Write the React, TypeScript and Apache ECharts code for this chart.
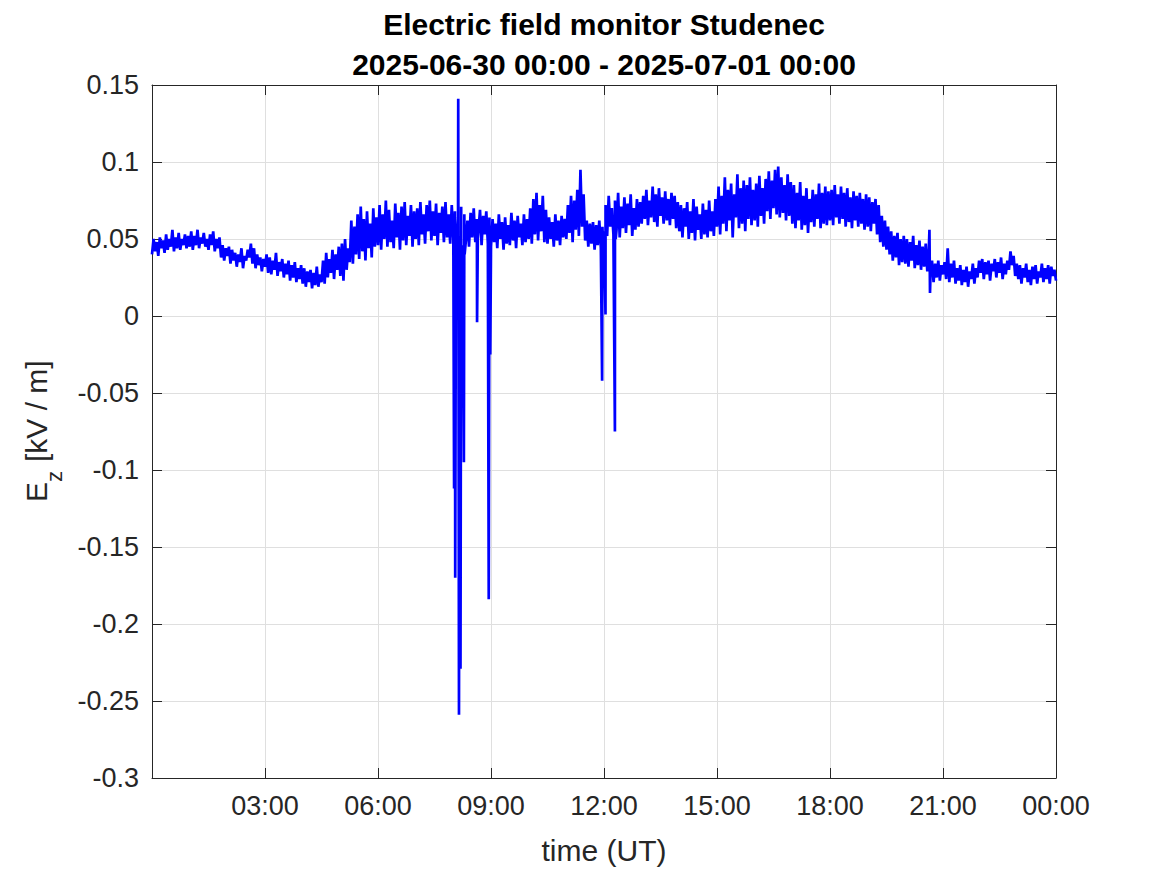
import React, { useEffect, useRef } from "react";
import * as echarts from "echarts";

// Title lines
const titleLines = ["Electric field monitor Studenec", "2025-06-30 00:00 - 2025-07-01 00:00"];
const xAxisTitle = "time (UT)";

// Axis ranges / ticks
const xMinHour = 0;
const xMaxHour = 24;
const xTickHours = 3;
const yMin = -0.3;
const yMax = 0.15;
const yTick = 0.05;

// Ez [kV/m], one row per hour, one value every 2.5 minutes
const ezSamples: number[][] = [
  [0.040, 0.050, 0.042, 0.048, 0.039, 0.051, 0.044, 0.049, 0.041, 0.053, 0.043, 0.050, 0.045, 0.056, 0.042, 0.051, 0.044, 0.054, 0.043, 0.050, 0.046, 0.053, 0.044, 0.052],
  [0.045, 0.055, 0.043, 0.052, 0.046, 0.056, 0.044, 0.051, 0.047, 0.054, 0.045, 0.050, 0.043, 0.053, 0.046, 0.055, 0.042, 0.050, 0.044, 0.051, 0.038, 0.046, 0.036, 0.044],
  [0.039, 0.045, 0.034, 0.043, 0.036, 0.041, 0.032, 0.040, 0.035, 0.044, 0.031, 0.039, 0.036, 0.043, 0.038, 0.047, 0.034, 0.044, 0.031, 0.040, 0.033, 0.038, 0.029, 0.037],
  [0.032, 0.040, 0.028, 0.038, 0.027, 0.036, 0.030, 0.041, 0.026, 0.035, 0.029, 0.037, 0.025, 0.034, 0.027, 0.036, 0.023, 0.033, 0.025, 0.035, 0.022, 0.031, 0.024, 0.033],
  [0.021, 0.031, 0.019, 0.029, 0.022, 0.030, 0.018, 0.028, 0.020, 0.032, 0.019, 0.027, 0.022, 0.036, 0.021, 0.041, 0.025, 0.037, 0.028, 0.043, 0.024, 0.040, 0.030, 0.045],
  [0.026, 0.047, 0.023, 0.050, 0.030, 0.044, 0.035, 0.062, 0.034, 0.058, 0.040, 0.066, 0.037, 0.071, 0.042, 0.063, 0.036, 0.068, 0.044, 0.060, 0.038, 0.070, 0.045, 0.064],
  [0.046, 0.072, 0.043, 0.066, 0.050, 0.075, 0.045, 0.069, 0.048, 0.062, 0.044, 0.073, 0.051, 0.067, 0.043, 0.071, 0.049, 0.074, 0.046, 0.065, 0.052, 0.072, 0.045, 0.068],
  [0.050, 0.070, 0.046, 0.074, 0.053, 0.066, 0.047, 0.072, 0.055, 0.075, 0.049, 0.068, 0.052, 0.073, 0.046, 0.067, 0.054, 0.071, 0.048, 0.074, 0.051, 0.066, 0.047, 0.072],
  [0.050, 0.068, 0.047, 0.064, 0.052, 0.071, 0.046, 0.066, 0.049, 0.062, 0.045, 0.067, 0.051, 0.070, 0.048, 0.063, 0.050, 0.069, 0.046, 0.065, 0.053, 0.068, 0.047, 0.064],
  [0.045, 0.063, 0.048, 0.060, 0.044, 0.066, 0.050, 0.061, 0.043, 0.064, 0.047, 0.059, 0.046, 0.067, 0.049, 0.062, 0.044, 0.065, 0.051, 0.060, 0.046, 0.066, 0.048, 0.063],
  [0.050, 0.070, 0.047, 0.076, 0.053, 0.080, 0.049, 0.072, 0.055, 0.078, 0.048, 0.069, 0.047, 0.064, 0.050, 0.061, 0.045, 0.066, 0.049, 0.062, 0.046, 0.065, 0.051, 0.063],
  [0.050, 0.072, 0.054, 0.078, 0.048, 0.075, 0.056, 0.082, 0.052, 0.095, 0.058, 0.079, 0.049, 0.062, 0.045, 0.060, 0.047, 0.061, 0.043, 0.059, 0.046, 0.062, 0.044, 0.058],
  [0.055, 0.072, 0.052, 0.078, 0.058, 0.070, 0.053, 0.075, 0.056, 0.080, 0.051, 0.071, 0.057, 0.077, 0.054, 0.073, 0.059, 0.079, 0.052, 0.070, 0.056, 0.076, 0.058, 0.074],
  [0.060, 0.078, 0.063, 0.082, 0.059, 0.075, 0.064, 0.084, 0.061, 0.079, 0.058, 0.083, 0.065, 0.077, 0.060, 0.081, 0.062, 0.076, 0.059, 0.080, 0.063, 0.078, 0.057, 0.074],
  [0.055, 0.072, 0.051, 0.070, 0.058, 0.074, 0.050, 0.068, 0.054, 0.076, 0.049, 0.071, 0.056, 0.066, 0.050, 0.073, 0.053, 0.069, 0.051, 0.075, 0.055, 0.068, 0.052, 0.076],
  [0.058, 0.084, 0.053, 0.078, 0.060, 0.090, 0.055, 0.082, 0.062, 0.086, 0.051, 0.079, 0.064, 0.092, 0.057, 0.083, 0.060, 0.088, 0.055, 0.085, 0.063, 0.090, 0.059, 0.082],
  [0.062, 0.086, 0.058, 0.091, 0.065, 0.083, 0.060, 0.089, 0.068, 0.094, 0.063, 0.088, 0.070, 0.095, 0.066, 0.097, 0.064, 0.090, 0.067, 0.085, 0.062, 0.092, 0.065, 0.087],
  [0.060, 0.085, 0.057, 0.080, 0.062, 0.087, 0.056, 0.078, 0.059, 0.083, 0.054, 0.076, 0.061, 0.082, 0.058, 0.079, 0.063, 0.086, 0.057, 0.080, 0.060, 0.084, 0.059, 0.081],
  [0.062, 0.082, 0.059, 0.085, 0.064, 0.079, 0.060, 0.084, 0.063, 0.080, 0.058, 0.083, 0.061, 0.077, 0.057, 0.081, 0.062, 0.078, 0.058, 0.080, 0.060, 0.076, 0.056, 0.079],
  [0.058, 0.077, 0.055, 0.074, 0.060, 0.076, 0.053, 0.072, 0.048, 0.065, 0.045, 0.062, 0.043, 0.058, 0.040, 0.055, 0.036, 0.052, 0.038, 0.054, 0.033, 0.050, 0.035, 0.052],
  [0.034, 0.050, 0.032, 0.048, 0.036, 0.052, 0.031, 0.046, 0.033, 0.049, 0.030, 0.045, 0.032, 0.047, 0.029, 0.044, 0.026, 0.036, 0.022, 0.034, 0.025, 0.036, 0.023, 0.033],
  [0.027, 0.035, 0.024, 0.044, 0.022, 0.034, 0.025, 0.036, 0.021, 0.031, 0.023, 0.033, 0.020, 0.030, 0.022, 0.032, 0.019, 0.029, 0.024, 0.034, 0.021, 0.031, 0.025, 0.036],
  [0.028, 0.037, 0.024, 0.035, 0.027, 0.036, 0.023, 0.034, 0.029, 0.037, 0.025, 0.035, 0.028, 0.038, 0.024, 0.034, 0.027, 0.036, 0.030, 0.042, 0.033, 0.039, 0.026, 0.034],
  [0.024, 0.033, 0.021, 0.031, 0.025, 0.034, 0.022, 0.030, 0.020, 0.032, 0.024, 0.033, 0.021, 0.029, 0.025, 0.034, 0.022, 0.031, 0.024, 0.033, 0.021, 0.032, 0.026, 0.030],
];
const ezEndValue = 0.023;

// Short excursions (hour of day, Ez)
const spikeHours = [
  8.02, 8.035, 8.05, 8.07, 8.13, 8.15, 8.165, 8.19, 8.21, 8.24, 8.28, 8.3,
  8.63, 8.65, 8.94, 8.96, 8.98, 11.95, 11.97, 12.04, 12.06, 12.29, 12.31, 20.64, 20.655,
];
const spikeValues = [
  -0.112, 0.05, -0.17, 0.055, 0.141, -0.259, 0.02, -0.229, -0.005, -0.024, -0.095, 0.04,
  -0.004, 0.05, -0.184, 0.02, -0.025, -0.042, 0.05, 0.001, 0.055, -0.075, 0.05, 0.056, 0.015,
];

const FONT = "'Liberation Sans', Arial, Helvetica, sans-serif";
const TXT = "#262626";

function buildData(): [number, number][] {
  const pts: [number, number][] = [];
  ezSamples.forEach((row, h) => {
    row.forEach((v, i) => pts.push([h + i / row.length, v]));
  });
  pts.push([24, ezEndValue]);
  spikeHours.forEach((t, i) => pts.push([t, spikeValues[i]]));
  pts.sort((a, b) => a[0] - b[0]);
  return pts;
}

export default function App() {
  const ref = useRef<HTMLDivElement>(null);
  useEffect(() => {
    if (!ref.current) return;
    const chart = echarts.init(ref.current, null, { renderer: "svg" });
    const axisLine = { show: true, onZero: false, lineStyle: { color: TXT, width: 1 } };
    const axisTick = { show: true, inside: true, length: 10, lineStyle: { color: TXT, width: 1 } };
    const xFmt = (v: number) => {
      if (v === 0) return "";
      const h = v === 24 ? 0 : v;
      return (h < 10 ? "0" : "") + h + ":00";
    };
    const yFmt = (v: number) => String(Math.round(v * 100) / 100);
    const option: any = {
      animation: false,
      backgroundColor: "#ffffff",
      grid: { left: 152, top: 85, width: 904, height: 693, containLabel: false },
      xAxis: [
        {
          type: "value",
          min: xMinHour,
          max: xMaxHour,
          interval: xTickHours,
          axisLine,
          axisTick,
          axisLabel: { formatter: xFmt, fontSize: 27, color: TXT, margin: 14, fontFamily: FONT },
          splitLine: { show: true, lineStyle: { color: "#dfdfdf", width: 1 } },
        },
        {
          type: "value",
          position: "top",
          min: xMinHour,
          max: xMaxHour,
          interval: xTickHours,
          axisLine,
          axisTick,
          axisLabel: { show: false },
          splitLine: { show: false },
        },
      ],
      yAxis: [
        {
          type: "value",
          min: yMin,
          max: yMax,
          interval: yTick,
          axisLine,
          axisTick,
          axisLabel: { formatter: yFmt, fontSize: 27, color: TXT, margin: 13, fontFamily: FONT },
          splitLine: { show: true, lineStyle: { color: "#dfdfdf", width: 1 } },
        },
        {
          type: "value",
          position: "right",
          min: yMin,
          max: yMax,
          interval: yTick,
          axisLine,
          axisTick,
          axisLabel: { show: false },
          splitLine: { show: false },
        },
      ],
      series: [
        {
          type: "line",
          xAxisIndex: 0,
          yAxisIndex: 0,
          data: buildData(),
          symbol: "none",
          showSymbol: false,
          lineStyle: { color: "#0000ff", width: 2.7, join: "miter" },
          z: 3,
        },
      ],
      graphic: [
        {
          type: "text",
          x: 604,
          y: 24,
          style: { text: titleLines[0], font: `bold 30px ${FONT}`, fill: "#000", align: "center", verticalAlign: "middle" },
        },
        {
          type: "text",
          x: 604,
          y: 64,
          style: { text: titleLines[1], font: `bold 30px ${FONT}`, fill: "#000", align: "center", verticalAlign: "middle" },
        },
        {
          type: "text",
          x: 604,
          y: 850,
          style: { text: xAxisTitle, font: `30px ${FONT}`, fill: TXT, align: "center", verticalAlign: "middle" },
        },
        {
          type: "group",
          x: 36.5,
          y: 431,
          rotation: Math.PI / 2,
          children: [
            {
              type: "text",
              x: -71,
              y: 0,
              style: { text: "E", font: `30px ${FONT}`, fill: TXT, align: "left", verticalAlign: "middle" },
            },
            {
              type: "text",
              x: -51,
              y: 18,
              style: { text: "z", font: `22px ${FONT}`, fill: TXT, align: "left", verticalAlign: "middle" },
            },
            {
              type: "text",
              x: -31,
              y: 0,
              style: { text: "[kV / m]", font: `30px ${FONT}`, fill: TXT, align: "left", verticalAlign: "middle" },
            },
          ],
        },
      ],
    };
    chart.setOption(option);
    return () => chart.dispose();
  }, []);
  return (
    <div
      ref={ref}
      style={{ position: "fixed", left: 0, top: 0, width: 1167, height: 875, background: "#fff" }}
    />
  );
}
